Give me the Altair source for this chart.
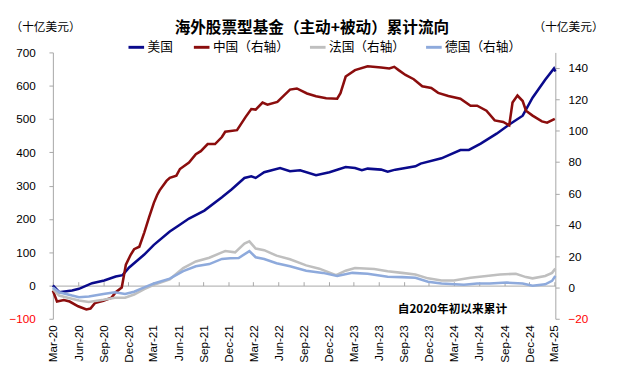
import altair as alt
import pandas as pd

series_names = ["美国", "中国（右轴）", "法国（右轴）", "德国（右轴）"]
series_colors = ["#0a0a8c", "#8b0d0d", "#bfbfbf", "#8eaadc"]

us_dates = ["2020-03-01", "2020-03-24", "2020-05-10", "2020-06-04", "2020-07-22", "2020-09-04",
            "2020-10-16", "2020-11-10", "2020-12-04", "2021-01-28", "2021-03-04", "2021-05-01",
            "2021-06-04", "2021-07-10", "2021-09-04", "2021-11-07", "2021-12-13", "2022-01-28",
            "2022-02-22", "2022-03-10", "2022-04-10", "2022-06-07", "2022-07-13", "2022-08-19",
            "2022-10-16", "2022-12-04", "2023-02-01", "2023-03-07", "2023-04-01", "2023-04-22",
            "2023-06-10", "2023-07-04", "2023-08-01", "2023-10-13", "2023-11-01", "2024-01-16",
            "2024-03-25", "2024-04-25", "2024-06-07", "2024-08-04", "2024-09-22", "2024-11-07",
            "2024-12-13", "2025-01-28", "2025-03-01", "2025-03-06"]
us_vals = [0, -20, -15, -10, 7, 15,
           27, 31, 54, 93, 122, 162,
           181, 201, 225, 265, 289, 323,
           328, 323, 340, 353, 343, 346,
           331, 340, 356, 353, 346, 351,
           348, 342, 348, 358, 366, 382,
           407, 407, 426, 456, 485, 510,
           564, 618, 652, 643]

cn_dates = ["2020-03-01", "2020-03-16", "2020-04-10", "2020-05-01", "2020-06-01", "2020-07-01",
            "2020-07-16", "2020-08-01", "2020-09-01", "2020-10-01", "2020-10-16", "2020-11-07",
            "2020-11-22", "2020-12-10", "2020-12-22", "2021-01-10", "2021-01-28", "2021-02-15",
            "2021-03-04", "2021-03-16", "2021-03-25", "2021-04-19", "2021-05-01", "2021-05-25",
            "2021-06-07", "2021-07-10", "2021-08-04", "2021-08-22", "2021-09-16", "2021-10-13",
            "2021-11-07", "2021-11-19", "2022-01-01", "2022-02-01", "2022-02-22", "2022-03-10",
            "2022-04-04", "2022-04-22", "2022-05-28", "2022-07-13", "2022-08-07", "2022-09-13",
            "2022-10-16", "2022-11-22", "2023-01-01", "2023-01-13", "2023-02-01", "2023-03-07",
            "2023-04-22", "2023-06-10", "2023-07-10", "2023-07-28", "2023-08-13", "2023-09-07",
            "2023-10-07", "2023-11-07", "2023-12-10", "2024-01-04", "2024-02-10", "2024-03-25",
            "2024-05-01", "2024-05-25", "2024-06-28", "2024-07-28", "2024-08-28", "2024-09-19",
            "2024-10-01", "2024-10-19", "2024-11-07", "2024-11-19", "2024-12-13", "2025-01-16",
            "2025-02-04", "2025-03-04"]
cn_vals = [-2, -9, -8, -9, -12, -14,
           -13.5, -10, -8.5, -6.5, -3, 0,
           14.5, 21, 24.4, 26, 35, 45,
           54, 59, 62, 68, 70, 71.4,
           75.6, 79.7, 85, 87, 91.5, 91.5,
           96, 99.4, 100.4, 108.7, 113.9, 113.5,
           118, 116.6, 118.4, 126.3, 127, 123.8,
           122, 120.7, 120.5, 124, 134.6, 138.7,
           141.2, 140.4, 139.8, 140.8, 138.7, 135.6,
           132.9, 128.4, 127.3, 124.2, 122.2, 120.5,
           116, 116, 112.8, 106.6, 105.6, 103.5,
           118, 122.5, 119, 112.8, 109.7, 106,
           105.2, 107.6]

fr_dates = ["2020-03-01", "2020-03-24", "2020-04-17", "2020-06-04", "2020-07-10", "2020-09-01",
            "2020-10-13", "2020-11-19", "2020-12-22", "2021-01-28", "2021-03-04", "2021-05-01",
            "2021-06-19", "2021-08-04", "2021-09-22", "2021-11-07", "2021-11-19", "2021-12-25",
            "2022-01-28", "2022-02-15", "2022-03-10", "2022-04-10", "2022-05-25", "2022-07-13",
            "2022-09-10", "2022-10-28", "2022-12-28", "2023-02-01", "2023-03-07", "2023-05-16",
            "2023-07-04", "2023-08-25", "2023-10-13", "2023-11-28", "2024-01-16", "2024-03-01",
            "2024-05-01", "2024-06-28", "2024-08-16", "2024-10-13", "2024-11-19", "2024-12-13",
            "2025-01-28", "2025-02-22", "2025-03-06"]
fr_vals = [-1, -5.2, -6.2, -8.3, -9.3, -7.9,
           -6.6, -6.6, -4.5, -1, 1.7, 5.2,
           12.4, 16.6, 19, 22.4, 23.2, 22.4,
           28, 29.4, 24.8, 23.8, 20.3, 18,
           14.1, 12, 7.9, 10.7, 12.4, 11.8,
           10.4, 9.3, 8.3, 5.8, 4.5, 4.5,
           6.2, 7.3, 8.3, 8.7, 6.6, 5.8,
           7.3, 9.3, 12]

de_dates = ["2020-03-01", "2020-03-24", "2020-05-10", "2020-06-04", "2020-07-10", "2020-09-01",
            "2020-10-13", "2020-11-19", "2020-12-22", "2021-01-28", "2021-03-04", "2021-05-01",
            "2021-06-19", "2021-08-04", "2021-09-22", "2021-11-07", "2021-12-07", "2022-01-07",
            "2022-02-15", "2022-03-10", "2022-04-10", "2022-05-25", "2022-07-13", "2022-09-10",
            "2022-11-10", "2023-01-01", "2023-02-25", "2023-04-22", "2023-07-04", "2023-08-25",
            "2023-10-13", "2023-11-28", "2024-01-16", "2024-04-07", "2024-05-25", "2024-07-10",
            "2024-09-10", "2024-11-07", "2024-12-13", "2025-01-28", "2025-02-22", "2025-03-06"]
de_vals = [0, -3.1, -5.2, -6.2, -5.8, -4.2,
           -3.1, -4.2, -2.7, 0, 2.5, 5.6,
           10.4, 13.5, 14.9, 18.2, 18.6, 18.8,
           23.2, 19.3, 18.2, 15.5, 13.5, 10.7,
           9.3, 7.3, 9.3, 8.7, 6.8, 6.6,
           6.2, 3.7, 2.5, 1.7, 2.5, 2.5,
           3.1, 2.5, 1.1, 2, 4.2, 7.3]

quarter_ticks = [(y, m) for y in range(2020, 2026) for m in (3, 6, 9, 12)
                 if (y, m) >= (2020, 3) and (y, m) <= (2025, 3)]

note_text = ["自2020年初以来累计"]
note_date = ["2024-02-25"]
note_value = [-70]

frames = []
for name, dates, vals in [(series_names[0], us_dates, us_vals),
                          (series_names[1], cn_dates, cn_vals),
                          (series_names[2], fr_dates, fr_vals),
                          (series_names[3], de_dates, de_vals)]:
    frames.append(pd.DataFrame({"date": pd.to_datetime(dates), "value": vals, "series": name}))
df = pd.concat(frames, ignore_index=True)
df_left = df[df["series"] == series_names[0]]
df_right = df[df["series"] != series_names[0]]
df_note = pd.DataFrame({"date": pd.to_datetime(note_date), "value": note_value, "label": note_text})

AX_GRAY = "#a6a6a6"
NUM_FONT = "Liberation Sans"
CJK_FONT = "Noto Sans CJK SC"

tick_vals = [alt.DateTime(year=y, month=m, date=1) for (y, m) in quarter_ticks]
x_scale = alt.Scale(domain=[alt.DateTime(year=2020, month=3, date=1),
                            alt.DateTime(year=2025, month=3, date=6)])

label_color = {"expr": "datum.value < 0 ? '#ff0000' : '#000000'"}

x_bottom = alt.X("date:T", scale=x_scale,
                 axis=alt.Axis(orient="bottom", values=tick_vals, format="%b-%y",
                               labelAngle=-90, labelAlign="right", labelBaseline="middle",
                               labelPadding=6, domain=False, ticks=False, grid=False, title=None,
                               labelFont=NUM_FONT, labelFontSize=12, labelColor="black",
                               labelOverlap=False))
x_zero = alt.X("date:T", scale=x_scale,
               axis=alt.Axis(orient="top", offset=-239, values=tick_vals, labels=False,
                             ticks=True, tickSize=4, tickColor=AX_GRAY, domain=True,
                             domainColor=AX_GRAY, grid=False, title=None))

y_left = alt.Y("value:Q", scale=alt.Scale(domain=[-100, 700], nice=False, zero=False),
               axis=alt.Axis(values=list(range(-100, 701, 100)), title="（十亿美元）",
                             titleAngle=0, titleX=-44, titleY=-26, titleAlign="left",
                             titleBaseline="middle", titleFont=CJK_FONT, titleFontSize=12,
                             titleFontWeight="normal", titleColor="black",
                             labelFont=NUM_FONT, labelFontSize=12, labelColor=label_color,
                             domainColor=AX_GRAY, tickColor=AX_GRAY, tickSize=4,
                             labelPadding=14, grid=False))
y_right = alt.Y("value:Q", scale=alt.Scale(domain=[-20, 150], nice=False, zero=False),
                axis=alt.Axis(orient="right", values=list(range(-20, 141, 20)), title="（十亿美元）",
                              titleAngle=0, titleX=13, titleY=-26, titleAlign="center",
                              titleBaseline="middle", titleFont=CJK_FONT, titleFontSize=12,
                              titleFontWeight="normal", titleColor="black",
                              labelFont=NUM_FONT, labelFontSize=12, labelColor=label_color,
                              domainColor=AX_GRAY, tickColor=AX_GRAY, tickSize=4,
                              labelPadding=9, grid=False))

legend = alt.Legend(title=None, orient="none", legendX=76, legendY=-15, direction="horizontal",
                    symbolType="stroke", symbolStrokeWidth=3, symbolSize=256,
                    labelFont=CJK_FONT, labelFontSize=13, labelColor="black",
                    columnPadding=14, labelOffset=2)
color = alt.Color("series:N", scale=alt.Scale(domain=series_names, range=series_colors),
                  legend=legend)

us_line = alt.Chart(df_left).mark_line(strokeWidth=2.6).encode(x=x_bottom, y=y_left, color=color)
note = alt.Chart(df_note).mark_text(font=CJK_FONT, fontSize=12, fontWeight="bold",
                                    color="black", align="center", baseline="middle").encode(
    x=x_bottom, y=y_left, text="label:N")
left = alt.layer(us_line, note)

right = alt.Chart(df_right).mark_line(strokeWidth=2.6).encode(
    x=x_zero, y=y_right, color=color, order=alt.Order("series:N"))

chart = alt.layer(left, right).resolve_scale(y="independent").resolve_axis(
    x="independent", y="independent").properties(
    width=515, height=273,
    title=alt.TitleParams(text="海外股票型基金（主动+被动）累计流向", anchor="middle",
                          font=CJK_FONT, fontSize=16, fontWeight="bold", color="black",
                          dy=19, dx=8),
    padding={"left": 0, "top": 8, "right": 5, "bottom": 5},
).configure_view(stroke=None)

chart.save("out.html", embed_options={"renderer": "svg", "actions": False})
